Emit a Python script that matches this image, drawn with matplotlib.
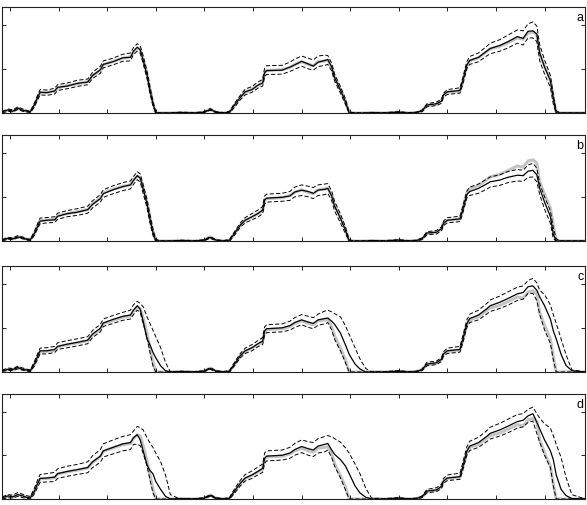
import matplotlib
matplotlib.use("Agg")
import matplotlib.pyplot as plt

# time axis (shared by every series)
t = [-8, -2, 3, 8, 13, 18, 21, 25, 28, 31, 38, 46, 49, 59, 69, 80, 85, 93, 96, 106, 116, 124, 127, 131, 134, 137, 141, 144, 147, 150, 155, 160, 165,
     175, 190, 200, 206, 212, 220,
     226, 231, 237, 242, 249, 255, 260, 262, 264, 280, 288, 293, 300, 307, 312, 317, 324, 327, 331, 334, 340, 345, 349, 355, 360, 366, 372,
     385, 400, 410, 418,
     424, 429, 439, 444, 446, 450, 463, 466, 470, 473, 482, 491, 494, 504, 512, 522, 528, 533, 538, 542, 545, 550, 556, 559, 562, 567, 572, 578, 592]

# true signal (grey, same in all panels)
true_y = [0.03, 0.06, 0.05, 0.10, 0.07, 0.04, 0.03, 0.17, 0.32, 0.46, 0.47, 0.49, 0.57, 0.62, 0.66, 0.71, 0.84, 0.97, 1.09, 1.17, 1.24, 1.27, 1.38, 1.47, 1.44, 1.22, 0.88, 0.54, 0.24, 0.0, 0.0, 0.0, 0.0,
          0.01, 0.0, 0.02, 0.09, 0.02, 0.0,
          0.02, 0.17, 0.36, 0.47, 0.54, 0.62, 0.69, 0.92, 0.96, 0.98, 1.03, 1.10, 1.16, 1.10, 1.07, 1.16, 1.18, 1.20, 1.03, 0.81, 0.54, 0.28, 0.0, 0.0, 0.0, 0.0, 0.01,
          0.0, 0.02, 0.0, 0.01,
          0.05, 0.17, 0.20, 0.28, 0.40, 0.47, 0.50, 0.73, 1.07, 1.18, 1.25, 1.40, 1.45, 1.51, 1.59, 1.70, 1.67, 1.81, 1.84, 1.77, 1.35, 1.05, 0.75, 0.35, 0.0, 0.0, 0.0, 0.0, 0.0]

# panel a
est_a = [0.03, 0.07, 0.04, 0.11, 0.06, 0.04, 0.03, 0.18, 0.33, 0.47, 0.46, 0.50, 0.58, 0.61, 0.67, 0.70, 0.85, 0.98, 1.10, 1.16, 1.25, 1.26, 1.40, 1.49, 1.43, 1.20, 0.86, 0.52, 0.22, 0.0, 0.0, 0.0, 0.0,
         0.01, 0.0, 0.02, 0.08, 0.02, 0.0,
         0.02, 0.18, 0.35, 0.48, 0.53, 0.63, 0.68, 0.91, 0.96, 0.97, 1.04, 1.09, 1.17, 1.11, 1.06, 1.15, 1.19, 1.21, 1.04, 0.80, 0.52, 0.26, 0.0, 0.0, 0.0, 0.0, 0.01,
         0.0, 0.02, 0.0, 0.01,
         0.05, 0.18, 0.21, 0.27, 0.41, 0.48, 0.51, 0.74, 1.08, 1.19, 1.26, 1.41, 1.46, 1.53, 1.61, 1.73, 1.69, 1.85, 1.86, 1.79, 1.36, 1.04, 0.73, 0.33, 0.0, 0.0, 0.0, 0.0, 0.0]
hi_a = [0.03, 0.09, 0.07, 0.14, 0.09, 0.05, 0.04, 0.22, 0.38, 0.53, 0.52, 0.56, 0.64, 0.68, 0.74, 0.77, 0.92, 1.06, 1.18, 1.24, 1.33, 1.36, 1.48, 1.57, 1.52, 1.30, 0.95, 0.60, 0.28, 0.03, 0.0, 0.0, 0.0,
        0.02, 0.01, 0.03, 0.10, 0.03, 0.01,
        0.04, 0.22, 0.40, 0.54, 0.60, 0.70, 0.76, 1.02, 1.07, 1.08, 1.15, 1.22, 1.29, 1.24, 1.20, 1.29, 1.31, 1.30, 1.13, 0.88, 0.60, 0.33, 0.03, 0.0, 0.0, 0.0, 0.01,
        0.01, 0.03, 0.01, 0.02,
        0.07, 0.21, 0.25, 0.31, 0.45, 0.53, 0.57, 0.81, 1.16, 1.28, 1.36, 1.52, 1.58, 1.66, 1.76, 1.88, 1.86, 2.02, 2.06, 1.97, 1.55, 1.20, 0.85, 0.42, 0.05, 0.0, 0.0, 0.0, 0.0]
lo_a = [0.0, 0.04, 0.02, 0.08, 0.04, 0.02, 0.01, 0.13, 0.28, 0.41, 0.40, 0.43, 0.51, 0.55, 0.60, 0.64, 0.78, 0.90, 1.02, 1.09, 1.17, 1.18, 1.32, 1.40, 1.35, 1.12, 0.78, 0.45, 0.17, 0.0, 0.0, 0.0, 0.0,
        0.0, 0.0, 0.01, 0.06, 0.01, 0.0,
        0.0, 0.13, 0.30, 0.41, 0.47, 0.56, 0.61, 0.82, 0.87, 0.88, 0.94, 0.99, 1.06, 1.00, 0.97, 1.05, 1.08, 1.10, 0.95, 0.72, 0.45, 0.20, 0.0, 0.0, 0.0, 0.0, 0.0,
        0.0, 0.01, 0.0, 0.0,
        0.03, 0.14, 0.17, 0.22, 0.36, 0.42, 0.45, 0.66, 1.00, 1.10, 1.16, 1.30, 1.34, 1.40, 1.47, 1.58, 1.54, 1.70, 1.70, 1.62, 1.18, 0.88, 0.58, 0.20, 0.0, 0.0, 0.0, 0.0, 0.0]

# panel b
est_b = [0.02, 0.06, 0.05, 0.09, 0.07, 0.03, 0.03, 0.16, 0.31, 0.45, 0.47, 0.48, 0.56, 0.62, 0.65, 0.71, 0.83, 0.96, 1.07, 1.16, 1.23, 1.27, 1.37, 1.48, 1.42, 1.18, 0.84, 0.50, 0.20, 0.0, 0.0, 0.0, 0.0,
         0.01, 0.0, 0.02, 0.08, 0.02, 0.0,
         0.02, 0.17, 0.36, 0.47, 0.55, 0.62, 0.70, 0.93, 0.97, 0.99, 1.02, 1.11, 1.15, 1.12, 1.08, 1.15, 1.17, 1.19, 1.02, 0.79, 0.51, 0.25, 0.0, 0.0, 0.0, 0.0, 0.01,
         0.0, 0.02, 0.0, 0.01,
         0.05, 0.18, 0.20, 0.28, 0.40, 0.47, 0.50, 0.72, 1.05, 1.12, 1.19, 1.30, 1.34, 1.38, 1.44, 1.49, 1.48, 1.58, 1.60, 1.50, 1.19, 0.88, 0.55, 0.15, 0.0, 0.0, 0.0, 0.0, 0.0]
hi_b = [0.03, 0.08, 0.07, 0.12, 0.09, 0.05, 0.04, 0.21, 0.37, 0.52, 0.53, 0.55, 0.63, 0.69, 0.73, 0.79, 0.91, 1.05, 1.16, 1.25, 1.32, 1.36, 1.46, 1.57, 1.52, 1.28, 0.94, 0.60, 0.28, 0.04, 0.0, 0.0, 0.0,
        0.02, 0.01, 0.03, 0.10, 0.03, 0.01,
        0.04, 0.21, 0.41, 0.53, 0.62, 0.70, 0.78, 1.02, 1.06, 1.08, 1.12, 1.22, 1.27, 1.24, 1.21, 1.27, 1.29, 1.30, 1.13, 0.90, 0.61, 0.33, 0.03, 0.0, 0.0, 0.0, 0.01,
        0.01, 0.03, 0.01, 0.02,
        0.07, 0.21, 0.24, 0.32, 0.45, 0.53, 0.56, 0.80, 1.13, 1.22, 1.29, 1.41, 1.45, 1.50, 1.57, 1.62, 1.60, 1.72, 1.76, 1.65, 1.30, 1.00, 0.68, 0.30, 0.05, 0.0, 0.0, 0.0, 0.0]
lo_b = [0.0, 0.04, 0.03, 0.07, 0.05, 0.02, 0.01, 0.12, 0.26, 0.39, 0.41, 0.42, 0.49, 0.55, 0.58, 0.63, 0.75, 0.88, 0.99, 1.07, 1.14, 1.18, 1.28, 1.39, 1.33, 1.08, 0.75, 0.41, 0.13, 0.0, 0.0, 0.0, 0.0,
        0.0, 0.0, 0.01, 0.06, 0.01, 0.0,
        0.0, 0.13, 0.31, 0.41, 0.48, 0.54, 0.62, 0.84, 0.88, 0.90, 0.92, 1.00, 1.03, 1.00, 0.96, 1.03, 1.05, 1.08, 0.91, 0.68, 0.41, 0.17, 0.0, 0.0, 0.0, 0.0, 0.0,
        0.0, 0.01, 0.0, 0.0,
        0.03, 0.14, 0.16, 0.23, 0.35, 0.41, 0.44, 0.64, 0.97, 1.03, 1.08, 1.18, 1.22, 1.26, 1.32, 1.36, 1.35, 1.44, 1.45, 1.34, 1.05, 0.72, 0.40, 0.05, 0.0, 0.0, 0.0, 0.0, 0.0]

# panel c
est_c = [0.03, 0.06, 0.06, 0.10, 0.06, 0.04, 0.03, 0.18, 0.33, 0.48, 0.48, 0.51, 0.58, 0.63, 0.67, 0.72, 0.86, 0.99, 1.11, 1.19, 1.26, 1.29, 1.40, 1.50, 1.42, 1.15, 0.75, 0.62, 0.45, 0.32, 0.14, 0.03, 0.0,
         0.01, 0.0, 0.02, 0.08, 0.02, 0.0,
         0.02, 0.18, 0.37, 0.48, 0.55, 0.64, 0.70, 0.93, 0.98, 1.00, 1.05, 1.12, 1.18, 1.13, 1.10, 1.18, 1.21, 1.22, 1.15, 1.08, 0.88, 0.62, 0.40, 0.18, 0.07, 0.0, 0.0,
         0.0, 0.02, 0.0, 0.01,
         0.05, 0.18, 0.21, 0.29, 0.41, 0.48, 0.51, 0.75, 1.09, 1.21, 1.29, 1.44, 1.50, 1.58, 1.66, 1.77, 1.80, 1.93, 1.95, 1.85, 1.70, 1.50, 1.20, 0.93, 0.75, 0.40, 0.15, 0.03, 0.0]
hi_c = [0.04, 0.09, 0.08, 0.13, 0.09, 0.06, 0.05, 0.23, 0.39, 0.54, 0.55, 0.58, 0.66, 0.71, 0.75, 0.80, 0.94, 1.08, 1.20, 1.28, 1.35, 1.40, 1.52, 1.60, 1.55, 1.48, 1.25, 1.10, 0.95, 0.80, 0.55, 0.22, 0.0,
        0.02, 0.01, 0.03, 0.10, 0.03, 0.01,
        0.04, 0.22, 0.42, 0.54, 0.62, 0.71, 0.78, 1.02, 1.07, 1.09, 1.15, 1.23, 1.30, 1.26, 1.23, 1.31, 1.38, 1.40, 1.36, 1.32, 1.25, 1.05, 0.85, 0.55, 0.30, 0.08, 0.0,
        0.01, 0.03, 0.01, 0.02,
        0.07, 0.22, 0.25, 0.33, 0.46, 0.54, 0.58, 0.83, 1.18, 1.31, 1.40, 1.56, 1.63, 1.72, 1.81, 1.92, 1.95, 2.07, 2.12, 2.02, 1.85, 1.75, 1.52, 1.30, 1.10, 0.75, 0.40, 0.05, 0.0]
lo_c = [0.01, 0.04, 0.03, 0.07, 0.04, 0.02, 0.01, 0.13, 0.27, 0.41, 0.41, 0.44, 0.51, 0.55, 0.59, 0.64, 0.78, 0.91, 1.03, 1.10, 1.17, 1.20, 1.30, 1.40, 1.35, 1.10, 0.78, 0.45, 0.15, 0.0, 0.0, 0.0, 0.0,
        0.0, 0.0, 0.01, 0.06, 0.01, 0.0,
        0.0, 0.14, 0.32, 0.42, 0.48, 0.57, 0.62, 0.84, 0.89, 0.91, 0.95, 1.01, 1.07, 1.01, 0.98, 1.06, 1.09, 1.12, 0.95, 0.74, 0.48, 0.22, 0.0, 0.0, 0.0, 0.0, 0.0,
        0.0, 0.01, 0.0, 0.0,
        0.03, 0.14, 0.17, 0.24, 0.36, 0.42, 0.45, 0.67, 1.01, 1.12, 1.18, 1.32, 1.37, 1.44, 1.51, 1.62, 1.65, 1.78, 1.78, 1.62, 1.30, 0.95, 0.65, 0.28, 0.0, 0.0, 0.0, 0.0, 0.0]

# panel d
est_d = [0.03, 0.07, 0.05, 0.10, 0.07, 0.03, 0.03, 0.17, 0.33, 0.47, 0.48, 0.50, 0.58, 0.63, 0.67, 0.72, 0.85, 0.98, 1.10, 1.18, 1.26, 1.29, 1.40, 1.47, 1.35, 1.10, 0.78, 0.65, 0.58, 0.40, 0.22, 0.06, 0.0,
         0.01, 0.0, 0.02, 0.08, 0.02, 0.0,
         0.02, 0.18, 0.36, 0.48, 0.55, 0.63, 0.70, 0.93, 0.98, 1.00, 1.05, 1.13, 1.20, 1.15, 1.12, 1.21, 1.25, 1.27, 1.12, 1.02, 0.90, 0.76, 0.58, 0.30, 0.14, 0.04, 0.0,
         0.0, 0.02, 0.0, 0.01,
         0.05, 0.18, 0.21, 0.29, 0.41, 0.48, 0.51, 0.75, 1.09, 1.21, 1.29, 1.44, 1.50, 1.58, 1.66, 1.77, 1.80, 1.90, 1.95, 1.76, 1.60, 1.35, 1.10, 0.90, 0.55, 0.22, 0.08, 0.01, 0.0]
hi_d = [0.05, 0.10, 0.09, 0.15, 0.11, 0.07, 0.06, 0.24, 0.41, 0.56, 0.58, 0.61, 0.69, 0.75, 0.79, 0.85, 0.99, 1.13, 1.26, 1.35, 1.43, 1.47, 1.55, 1.66, 1.63, 1.58, 1.40, 1.28, 1.18, 1.05, 0.85, 0.55, 0.10,
        0.0, 0.01, 0.03, 0.10, 0.03, 0.01,
        0.04, 0.23, 0.43, 0.56, 0.64, 0.73, 0.80, 1.05, 1.10, 1.12, 1.18, 1.27, 1.35, 1.31, 1.29, 1.38, 1.43, 1.45, 1.42, 1.38, 1.30, 1.17, 1.05, 0.80, 0.58, 0.25, 0.02,
        0.01, 0.03, 0.01, 0.02,
        0.07, 0.22, 0.26, 0.34, 0.47, 0.55, 0.59, 0.84, 1.19, 1.32, 1.41, 1.57, 1.64, 1.73, 1.82, 1.93, 1.95, 2.05, 2.10, 1.95, 1.85, 1.72, 1.62, 1.45, 1.25, 0.95, 0.50, 0.10, 0.0]
lo_d = [0.0, 0.03, 0.02, 0.06, 0.03, 0.01, 0.0, 0.11, 0.25, 0.38, 0.39, 0.40, 0.47, 0.52, 0.56, 0.60, 0.72, 0.84, 0.96, 1.03, 1.10, 1.13, 1.25, 1.25, 1.22, 1.05, 0.75, 0.45, 0.15, 0.0, 0.0, 0.0, 0.0,
        0.0, 0.0, 0.01, 0.06, 0.01, 0.0,
        0.0, 0.13, 0.30, 0.41, 0.47, 0.55, 0.61, 0.82, 0.87, 0.89, 0.93, 1.00, 1.06, 1.00, 0.97, 1.05, 1.08, 1.12, 0.95, 0.75, 0.48, 0.22, 0.0, 0.0, 0.0, 0.0, 0.0,
        0.0, 0.01, 0.0, 0.0,
        0.03, 0.14, 0.17, 0.24, 0.36, 0.42, 0.45, 0.67, 1.00, 1.11, 1.18, 1.32, 1.37, 1.44, 1.51, 1.62, 1.65, 1.75, 1.78, 1.50, 1.30, 1.00, 0.72, 0.30, 0.0, 0.0, 0.0, 0.0, 0.0]

panel_labels = ['a', 'b', 'c', 'd']
estimates = [est_a, est_b, est_c, est_d]
uppers = [hi_a, hi_b, hi_c, hi_d]
lowers = [lo_a, lo_b, lo_c, lo_d]

x_ticks = [0, 50, 100, 150, 200, 250, 300, 350, 400, 450, 500, 550]
y_ticks = [0, 1, 2]

plt.rcParams['lines.scale_dashes'] = False

W, H = 587, 505
fig = plt.figure(figsize=(W / 100, H / 100), dpi=100)

# panel frames in pixels: (top, bottom)
frames = [(7, 113), (135, 241), (266, 372), (394, 499)]
left_px, right_px = 2, 585

for i in range(4):
  top, bot = frames[i]
  ax = fig.add_axes([left_px / W, 1 - bot / H, (right_px - left_px) / W, (bot - top) / H])
  ax.plot(t, true_y, color='#c4c4c4', lw=2.2, solid_joinstyle='round', zorder=1)
  ax.plot(t, uppers[i], color='black', lw=0.7, dashes=(3, 1.6), zorder=2)
  ax.plot(t, lowers[i], color='black', lw=0.7, dashes=(3, 1.6), zorder=2)
  ax.plot(t, estimates[i], color='black', lw=0.9, zorder=3)
  ax.set_xlim(-8.2, 591.6)
  ax.set_ylim(0, 2.4)
  ax.set_xticks(x_ticks)
  ax.set_yticks(y_ticks)
  ax.tick_params(direction='in', length=3, width=0.6, top=True, right=True,
                 labelbottom=False, labelleft=False)
  for sp in ax.spines.values():
    sp.set_linewidth(0.8)
    sp.set_color('#222222')
  ax.text(0.997, 0.955, panel_labels[i], transform=ax.transAxes,
          ha='right', va='top', fontsize=9, family='Liberation Sans')

fig.savefig('out.png', dpi=100)
